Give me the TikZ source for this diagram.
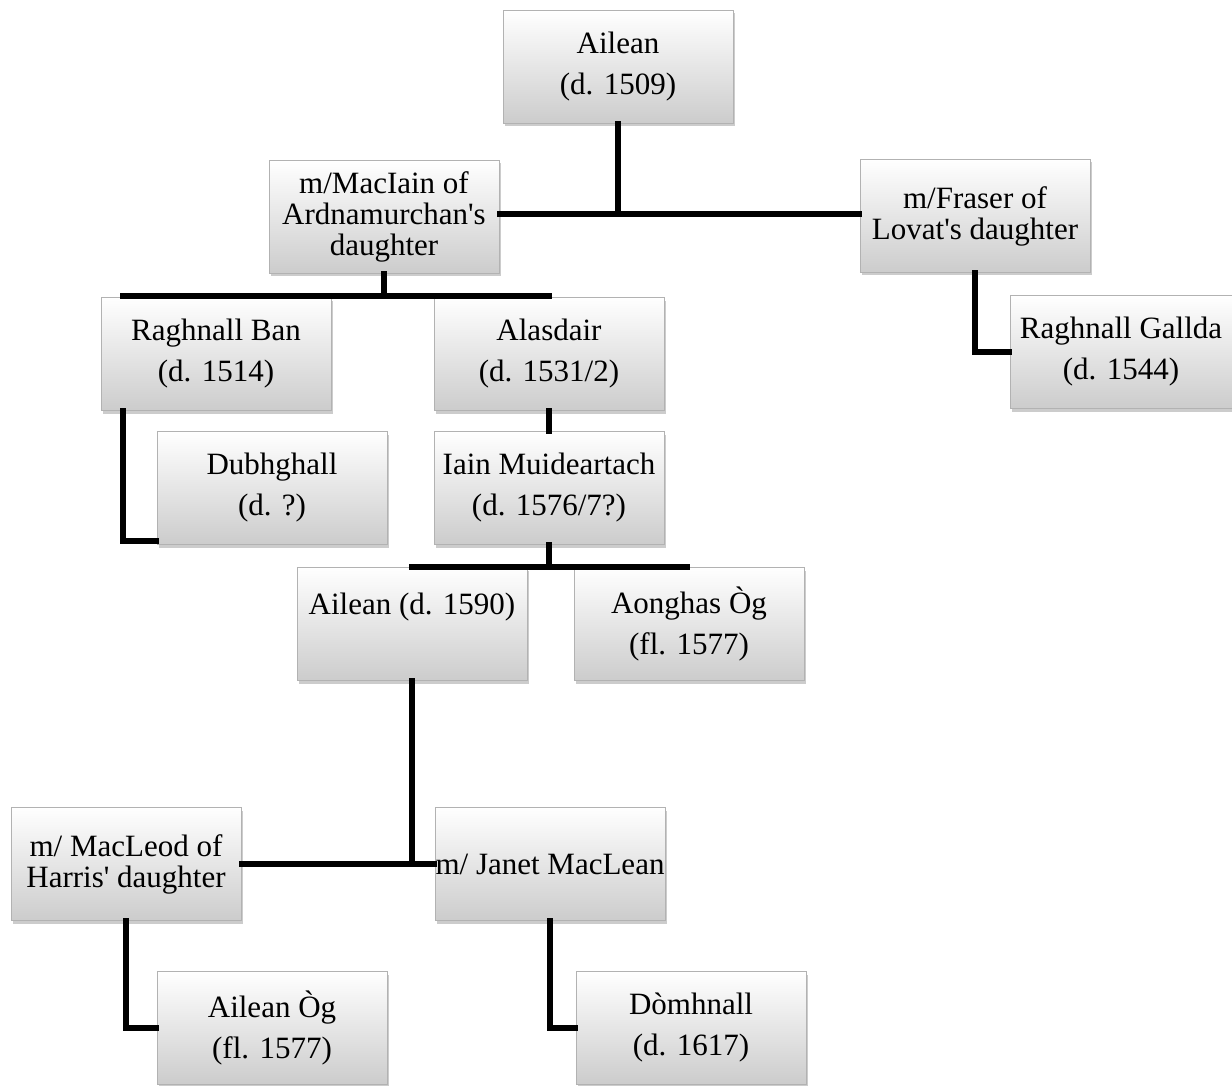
\documentclass[tikz,border=0pt]{standalone}
\usepackage{fontspec}
\setmainfont{Liberation Serif}[Ligatures=TeXOff]
\usetikzlibrary{shadows,calc}
\begin{document}
\begin{tikzpicture}[x=1pt,y=-1pt,
  box/.style={rectangle, minimum width=230pt, minimum height=113pt, align=center, inner sep=0pt,
    top color=white, bottom color=gray!40, draw=gray!60, line width=0.6pt,
    drop shadow={opacity=0.4, shadow xshift=1.5pt, shadow yshift=-3pt},
    font=\fontsize{31}{41}\selectfont},
  conn/.style={line width=5.5pt, line cap=rect, black}]
\useasboundingbox (0,0) rectangle (1232,1086);
\fill[white] (0,0) rectangle (1232,1086);
% nodes
\node[box] (ailean) at (618,67) {Ailean\\(d. 1509)};
\node[box] (maciain) at (384,217) {m/MacIain of\\[-10pt]Ardnamurchan's\\[-10pt]daughter};
\node[box] (fraser) at (975,216) {m/Fraser of\\[-10pt]Lovat's daughter};
\node[box] (rban) at (216,354) {Raghnall Ban\\(d. 1514)};
\node[box] (alasdair) at (549,354) {Alasdair\\(d. 1531/2)};
\node[box, minimum width=222pt] (rgall) at (1121,352) {Raghnall Gallda\\(d. 1544)};
\node[box] (dubh) at (272,488) {Dubhghall\\(d. ?)};
\node[box] (iain) at (549,488) {Iain Muideartach\\(d. 1576/7?)};
\node[box] (ailean2) at (412,624) {Ailean (d. 1590)\\\mbox{}};
\node[box] (aonghas) at (689,624) {Aonghas Òg\\(fl. 1577)};
\node[box] (macleod) at (126,864) {m/ MacLeod of\\[-10pt]Harris' daughter};
\node[box] (janet) at (550,864) {m/ Janet MacLean};
\node[box] (ailog) at (272,1028) {Ailean Òg\\(fl. 1577)};
\node[box] (domh) at (691,1028) {Dòmhnall\\(d. 1617)};
% connectors
\coordinate (j1) at (618,214);
\draw[conn] (ailean.south) -- (j1);
\draw[conn] (maciain.east |- j1) -- (fraser.west |- j1);
\coordinate (j2) at (384,296);
\coordinate (j2l) at (123,296);
\coordinate (j2r) at (549,296);
\draw[conn] (maciain.south) -- (j2);
\draw[conn] (j2l) -- (j2r);
\coordinate (k1) at (123,541);
\draw[conn] (k1 |- rban.south) -- (k1) -- (k1 -| dubh.west);
\draw[conn] (fraser.south) |- (rgall.west);
\draw[conn] (alasdair.south) -- (iain.north);
\coordinate (j3) at (549,567);
\coordinate (j3l) at (412,567);
\coordinate (j3r) at (687,567);
\draw[conn] (iain.south) -- (j3);
\draw[conn] (j3l) -- (j3r);
\coordinate (j4) at (412,864);
\draw[conn] (ailean2.south) -- (j4);
\draw[conn] (macleod.east |- j4) -- (janet.west |- j4);
\draw[conn] (macleod.south) |- (ailog.west);
\draw[conn] (janet.south) |- (domh.west);
\end{tikzpicture}
\end{document}
